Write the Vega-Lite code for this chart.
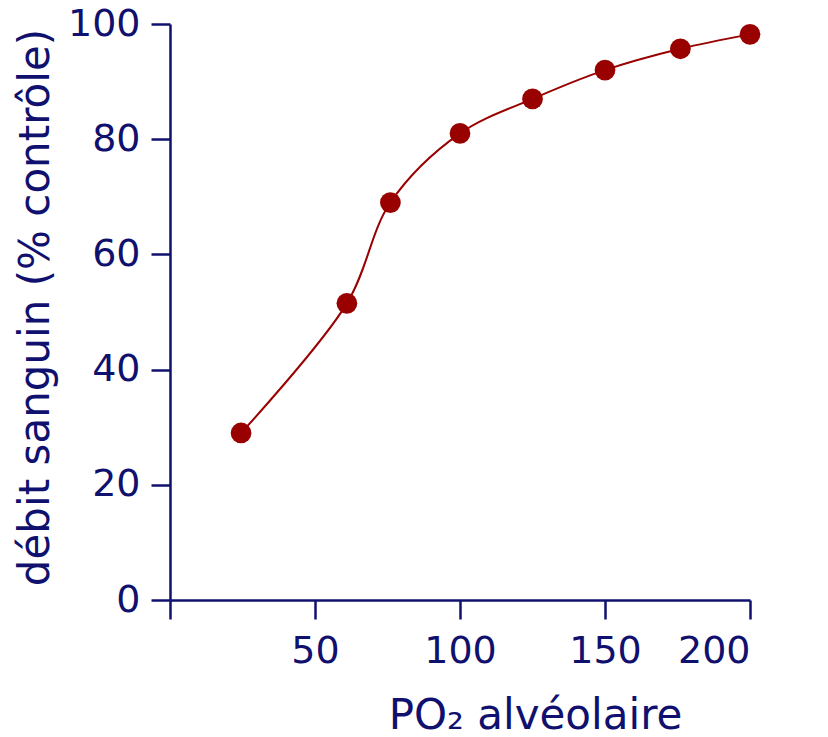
{
  "$schema": "https://vega.github.io/schema/vega-lite/v6.json",
  "autosize": "none",
  "width": 580,
  "height": 576,
  "padding": {"left": 170, "top": 24, "right": 78, "bottom": 137},
  "background": "white",
  "config": {
    "view": {"stroke": null},
    "font": "DejaVu Sans",
    "axis": {
      "domainColor": "#10106e",
      "domainWidth": 2.5,
      "tickColor": "#10106e",
      "tickWidth": 2.5,
      "tickSize": 19,
      "labelColor": "#10106e",
      "labelFont": "DejaVu Sans",
      "labelFontSize": 38,
      "titleColor": "#10106e",
      "titleFont": "DejaVu Sans",
      "titleFontSize": 42,
      "titleFontWeight": "normal",
      "grid": false
    }
  },
  "data": {
    "values": [
      {"po2": 24.5, "debit": 29},
      {"po2": 61, "debit": 51.5},
      {"po2": 76, "debit": 69},
      {"po2": 100, "debit": 81},
      {"po2": 125, "debit": 87},
      {"po2": 150, "debit": 92},
      {"po2": 176, "debit": 95.7},
      {"po2": 200, "debit": 98.2}
    ]
  },
  "encoding": {
    "x": {
      "field": "po2",
      "type": "quantitative",
      "scale": {"domain": [0, 200], "nice": false, "zero": true},
      "axis": {
        "title": "PO₂ alvéolaire",
        "values": [0, 50, 100, 150, 200],
        "labelExpr": "datum.value == 0 ? '' : datum.label",
        "labelPadding": 13,
        "titleX": 365,
        "titleY": 128,
        "titleBaseline": "alphabetic"
      }
    },
    "y": {
      "field": "debit",
      "type": "quantitative",
      "scale": {"domain": [0, 100], "nice": false},
      "axis": {
        "title": "débit sanguin (% contrôle)",
        "values": [0, 20, 40, 60, 80, 100],
        "labelPadding": 11,
        "titlePadding": 10,
        "titleY": 283
      }
    }
  },
  "layer": [
    {
      "mark": {"type": "line", "interpolate": "catmull-rom", "color": "#990000", "strokeWidth": 2}
    },
    {
      "mark": {"type": "point", "filled": true, "color": "#990000", "opacity": 1, "size": 430}
    }
  ]
}
